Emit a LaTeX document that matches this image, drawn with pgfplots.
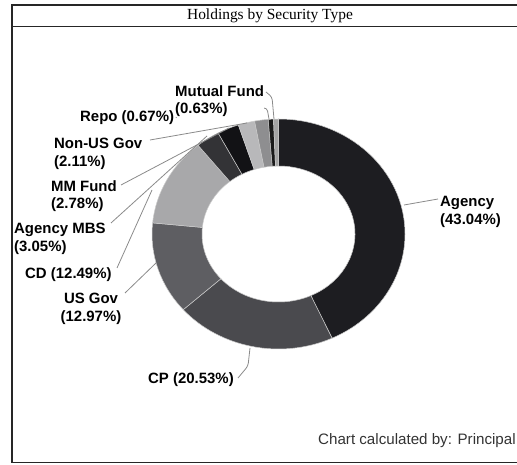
\documentclass[border=0pt]{standalone}
\usepackage{pgfplots}
\pgfplotsset{compat=1.18}
\usepackage{pgfplotstable}
\usepackage{fontspec}
\setmainfont{Liberation Sans}
\newfontfamily\titlefont{Liberation Serif}

\definecolor{cAgency}{HTML}{1D1D21}
\definecolor{cCP}{HTML}{4A4A4E}
\definecolor{cUSGov}{HTML}{5E5E62}
\definecolor{cCD}{HTML}{A8A8AA}
\definecolor{cMBS}{HTML}{333336}
\definecolor{cMMF}{HTML}{121215}
\definecolor{cNonUS}{HTML}{B8B8BA}
\definecolor{cOther}{HTML}{8E8E90}
\definecolor{cRepo}{HTML}{1A1A1A}
\definecolor{cMutual}{HTML}{A4A4A4}
\definecolor{leader}{HTML}{8A8A8A}

\tikzset{lbl/.style={font=\bfseries\fontsize{15}{17.5}\selectfont, align=left, inner sep=0pt}}

% holdings in percent, clockwise from 12 o'clock
\pgfplotstableread{
name       pct    col
Agency     43.04  cAgency
CP         20.53  cCP
USGov      12.97  cUSGov
CD         12.49  cCD
AgencyMBS  3.05   cMBS
MMFund     2.78   cMMF
NonUSGov   2.11   cNonUS
Other      1.73   cOther
Repo       0.67   cRepo
MutualFund 0.63   cMutual
}\holdings

% donut geometry (axis units = bp)
\def\cx{278.5}\def\cy{231}
\def\rx{126.5}\def\ry{115}
\def\rxin{76.5}\def\ryin{68}

\begin{document}
\begin{tikzpicture}
\begin{axis}[
  at={(0,0)}, anchor=south west,
  scale only axis, width=517bp, height=465bp,
  xmin=0, xmax=517, ymin=0, ymax=465,
  enlargelimits=false, hide axis,
  clip=false,
]
\pgfplotsextra{
  \pgfplotstablegetrowsof{\holdings}
  \pgfmathtruncatemacro\nrows{\pgfplotsretval-1}
  \gdef\cum{0}
  \foreach \i in {0,...,\nrows}{
    \pgfplotstablegetelem{\i}{pct}\of\holdings \let\pct\pgfplotsretval
    \pgfplotstablegetelem{\i}{col}\of\holdings \let\col\pgfplotsretval
    \pgfmathsetmacro\aone{90-3.6*\cum}
    \pgfmathsetmacro\atwo{90-3.6*(\cum+\pct)}
    \pgfmathsetmacro\xa{\cx+\rx*cos(\aone)}
    \pgfmathsetmacro\ya{\cy+\ry*sin(\aone)}
    \pgfmathsetmacro\xb{\cx+\rxin*cos(\atwo)}
    \pgfmathsetmacro\yb{\cy+\ryin*sin(\atwo)}
    \filldraw[fill=\col, draw=white!80!black, line width=0.5pt]
      (axis cs:\xa,\ya) arc[start angle=\aone, end angle=\atwo, x radius=\rx bp, y radius=\ry bp]
      -- (axis cs:\xb,\yb) arc[start angle=\atwo, end angle=\aone, x radius=\rxin bp, y radius=\ryin bp]
      -- cycle;
    \pgfmathsetmacro\newcum{\cum+\pct}
    \xdef\cum{\newcum}
  }
}

% frame and title bar
\draw[line width=1.4pt, black!85] (axis cs:530,460) -- (axis cs:12,460) -- (axis cs:12,2.5) -- (axis cs:530,2.5);
\draw[line width=1.2pt, black!85] (axis cs:12,438.5) -- (axis cs:530,438.5);
\node[font=\titlefont\fontsize{15.5}{18}\selectfont] at (axis cs:270,449) {Holdings by Security Type};
\node[anchor=west, font=\fontsize{15.2}{18}\selectfont, text=black!80, inner sep=0pt] at (axis cs:318,24) {Chart calculated by: Principal};

% leader lines
\begin{scope}[leader, line width=0.8pt, rounded corners=3pt]
\draw (axis cs:404,260) -- (axis cs:438,266);
\draw (axis cs:250,117) -- (axis cs:248,99) -- (axis cs:238,87);
\draw (axis cs:125,172) -- (axis cs:156,202);
\draw (axis cs:117,197) -- (axis cs:152,275);
\draw (axis cs:111,242) -- (axis cs:207,329);
\draw (axis cs:121,280) -- (axis cs:229,337);
\draw (axis cs:150,325) -- (axis cs:247,342);
\draw (axis cs:176,347) -- (axis cs:180,357) -- (axis cs:267,357) -- (axis cs:269,346);
\draw (axis cs:266,373) -- (axis cs:272,368) -- (axis cs:274,346);
\end{scope}

% labels
\node[lbl, anchor=west] at (axis cs:440,253) {Agency\\(43.04\%)};
\node[lbl, anchor=west] at (axis cs:148,85) {CP (20.53\%)};
\node[lbl, align=center] at (axis cs:91,156) {US Gov\\(12.97\%)};
\node[lbl, anchor=west] at (axis cs:25,190) {CD (12.49\%)};
\node[lbl, anchor=west] at (axis cs:14,226) {Agency MBS\\(3.05\%)};
\node[lbl, anchor=west] at (axis cs:51,269) {MM Fund\\(2.78\%)};
\node[lbl, anchor=west] at (axis cs:54,311) {Non-US Gov\\(2.11\%)};
\node[lbl, anchor=west] at (axis cs:80,347) {Repo (0.67\%)};
\node[lbl, anchor=west, fill=white] at (axis cs:175,364) {Mutual Fund\\(0.63\%)};
\end{axis}
\pgfresetboundingbox
\useasboundingbox (0,0) rectangle (517bp,465bp);
\end{tikzpicture}
\end{document}
